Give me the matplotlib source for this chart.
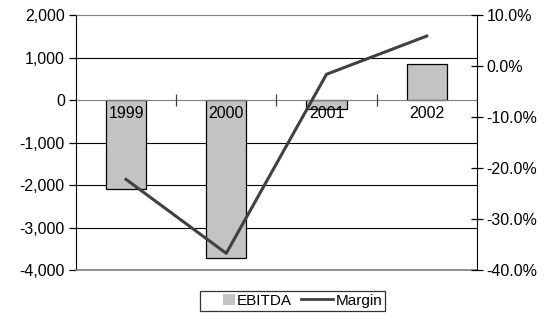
import matplotlib
matplotlib.use("Agg")
import matplotlib.pyplot as plt
from matplotlib.ticker import FuncFormatter, FixedLocator
from matplotlib.lines import Line2D
from matplotlib.patches import Patch, Rectangle
from matplotlib.legend_handler import HandlerPatch

plt.rcParams['font.family'] = ['Liberation Sans', 'DejaVu Sans']

years = ['1999', '2000', '2001', '2002']
ebitda = [-2100, -3725, -220, 840]
margin = [-22.2, -36.7, -1.6, 5.9]
left_ticks = [-4000, -3000, -2000, -1000, 0, 1000, 2000]
right_ticks = [-40, -30, -20, -10, 0, 10]

fig = plt.figure(figsize=(5.5, 3.22), dpi=100)
ax = fig.add_axes([0.138, 0.161, 0.729, 0.792])
x = list(range(len(years)))

ax.set_xlim(-0.5, len(years) - 0.5)
ax.set_ylim(-4000, 2000)
for v in left_ticks:
    if v in (-4000, 0, 2000):
        continue
    ax.axhline(v, color='black', lw=0.8, zorder=0)

ax.bar(x, ebitda, width=0.4, color='#c3c3c3', edgecolor='black', lw=0.9, zorder=2)
ax.set_axisbelow(False)

ax.yaxis.set_major_locator(FixedLocator(left_ticks))
ax.yaxis.set_major_formatter(FuncFormatter(lambda v, p: f"{int(v):,}"))
ax.tick_params(axis='y', direction='out', length=5, width=0.9, labelsize=11.5, pad=3)

# category axis crosses at zero
ax.spines['bottom'].set_position(('data', 0))
ax.spines['bottom'].set_color('#808080')
ax.spines['top'].set_color('#808080')
ax.spines['left'].set_color('black')
ax.spines['right'].set_visible(False)
ax.set_xticks([0.5, 1.5, 2.5])
ax.set_xticklabels([])
ax.set_xticks(x, minor=True)
ax.set_xticklabels(years, minor=True)
ax.tick_params(axis='x', which='major', direction='inout', length=8, width=0.9, color='#404040')
ax.tick_params(axis='x', which='minor', length=0, labelsize=11.5, pad=4)

# line along the bottom of the plot area
ax.axhline(-4000, color='#808080', lw=1.2, zorder=3, clip_on=False)

ax2 = ax.twinx()
ax2.set_ylim(-40, 10)
ax2.plot(x, margin, color='#404040', lw=2.2, zorder=5)
ax2.yaxis.set_major_locator(FixedLocator(right_ticks))
ax2.yaxis.set_major_formatter(FuncFormatter(lambda v, p: f"{v:.1f}%"))
ax2.tick_params(axis='y', direction='inout', length=8, width=0.9, labelsize=11.5, pad=3)
for s in ('top', 'bottom', 'left'):
    ax2.spines[s].set_visible(False)
ax2.spines['right'].set_color('black')


def small_square(legend, orig_handle, xdescent, ydescent, width, height, fontsize):
    side = height
    return Rectangle((width - side - xdescent, -ydescent), side, side)


handles = [Patch(facecolor='#c3c3c3', edgecolor='none'),
           Line2D([0], [0], color='#404040', lw=2)]
leg = fig.legend(handles, ['EBITDA', 'Margin'], loc='center', bbox_to_anchor=(0.532, 0.066),
                 ncol=2, frameon=True, fancybox=False, fontsize=11, handlelength=2.1,
                 handletextpad=0.15, columnspacing=0.6, borderpad=0.2, borderaxespad=0,
                 handleheight=0.8,
                 handler_map={Patch: HandlerPatch(patch_func=small_square)})
leg.get_frame().set_edgecolor('black')
leg.get_frame().set_linewidth(0.9)

fig.savefig('out.png', dpi=100)
